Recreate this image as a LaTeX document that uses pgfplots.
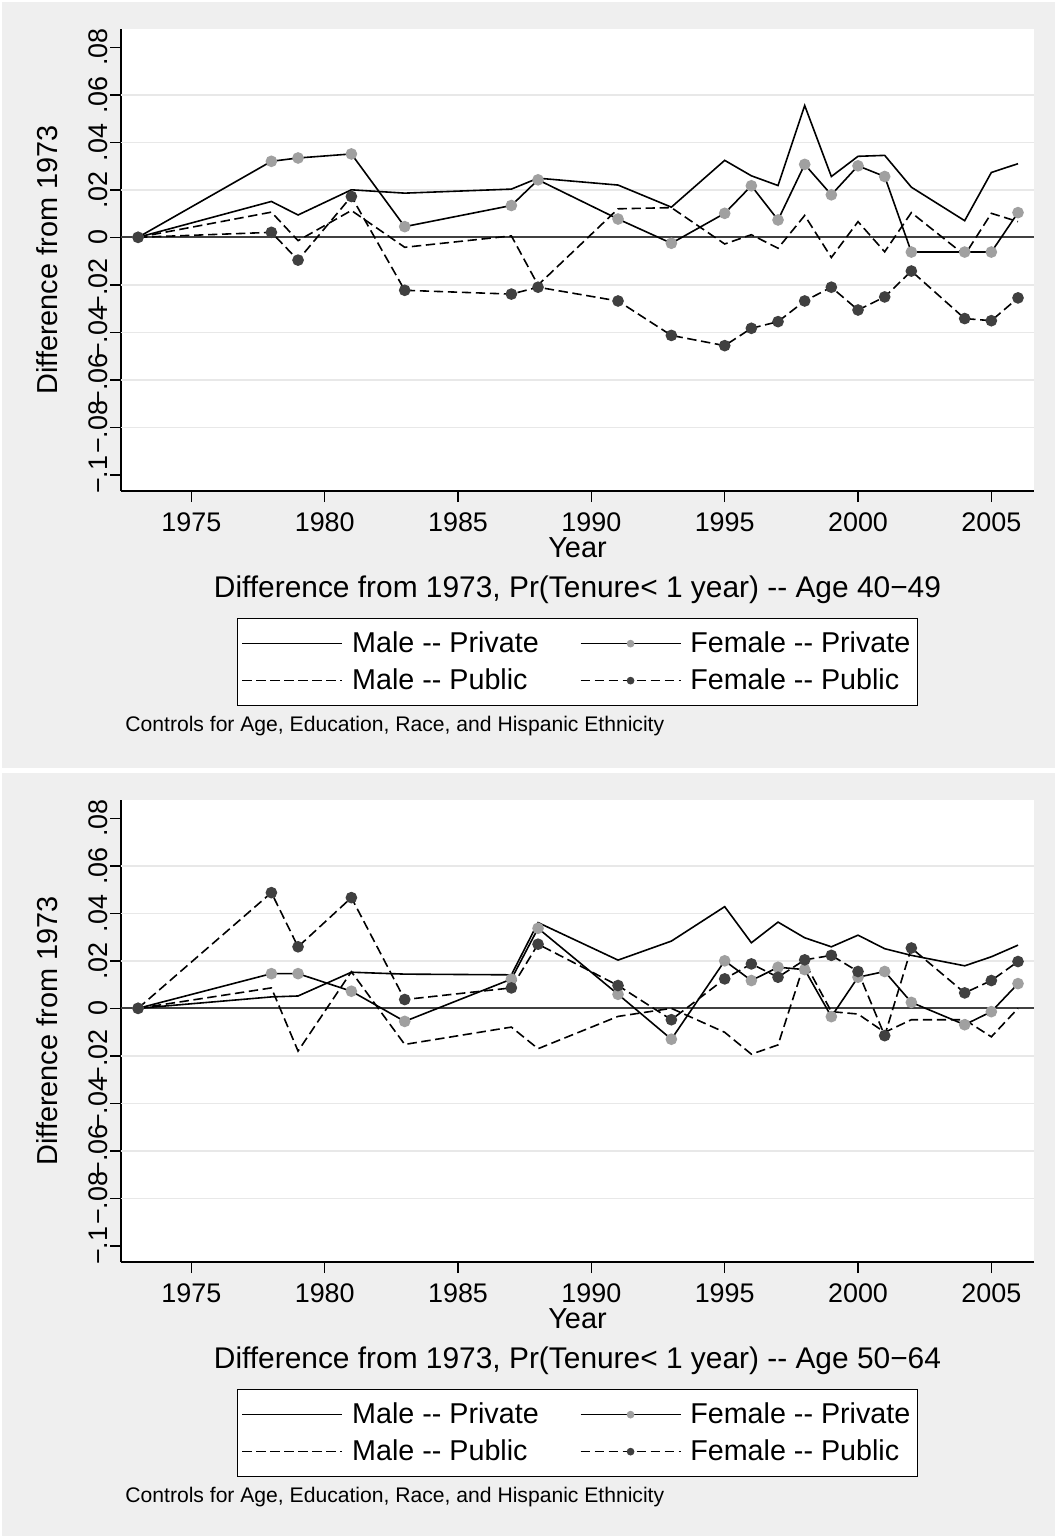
\documentclass[border=0pt]{standalone}
\usepackage{fontspec}
\setmainfont{Liberation Sans}
\usepackage{pgfplots}
\usepackage{pgfplotstable}
\pgfplotsset{compat=1.18}

\definecolor{bggray}{RGB}{239,239,239}
\definecolor{gridgray}{RGB}{232,232,232}
\definecolor{zerogray}{RGB}{64,64,64}
\definecolor{lightmk}{RGB}{160,160,160}
\definecolor{darkmk}{RGB}{64,64,64}

\pgfplotstableread{
year mpriv fpriv mpub fpub
1973 0 0 0 0
1978 0.0151 0.0320 0.0106 0.0021
1979 0.0094 0.0334 -0.0014 -0.0096
1981 0.0200 0.0351 0.0113 0.0172
1983 0.0186 0.0045 -0.0042 -0.0223
1987 0.0203 0.0134 0.0006 -0.0239
1988 0.0249 0.0242 -0.0201 -0.0210
1991 0.0220 0.0077 0.0120 -0.0268
1993 0.0127 -0.0025 0.0125 -0.0413
1995 0.0324 0.0101 -0.0028 -0.0456
1996 0.0259 0.0217 0.0011 -0.0383
1997 0.0218 0.0073 -0.0046 -0.0355
1998 0.0555 0.0307 0.0092 -0.0268
1999 0.0256 0.0179 -0.0085 -0.0210
2000 0.0341 0.0301 0.0066 -0.0306
2001 0.0345 0.0256 -0.0061 -0.0251
2002 0.0211 -0.0062 0.0104 -0.0142
2004 0.0070 -0.0062 -0.0075 -0.0342
2005 0.0273 -0.0062 0.0101 -0.0351
2006 0.0310 0.0104 0.0066 -0.0255
}\dataA

\pgfplotstableread{
year mpriv fpriv mpub fpub
1973 0 0 0 0
1978 0.0048 0.0146 0.0086 0.0487
1979 0.0052 0.0146 -0.0180 0.0259
1981 0.0152 0.0072 0.0154 0.0466
1983 0.0144 -0.0055 -0.0152 0.0037
1987 0.0141 0.0123 -0.0079 0.0086
1988 0.0361 0.0337 -0.0170 0.0270
1991 0.0203 0.0059 -0.0034 0.0096
1993 0.0283 -0.0130 0.0000 -0.0048
1995 0.0428 0.0200 -0.0101 0.0124
1996 0.0276 0.0117 -0.0193 0.0187
1997 0.0363 0.0173 -0.0154 0.0131
1998 0.0297 0.0163 0.0194 0.0204
1999 0.0259 -0.0035 -0.0014 0.0223
2000 0.0308 0.0131 -0.0024 0.0155
2001 0.0251 0.0155 -0.0101 -0.0115
2002 0.0223 0.0025 -0.0048 0.0254
2004 0.0179 -0.0069 -0.0048 0.0065
2005 0.0217 -0.0014 -0.0120 0.0117
2006 0.0266 0.0104 0.0000 0.0197
}\dataB

\pgfplotsset{
  panel/.style={
    anchor=north west,
    scale only axis,
    width=456.5bp, height=231bp,
    xmin=1972.36, xmax=2006.6,
    ymin=-0.1068, ymax=0.0877,
    axis background/.style={fill=white},
    axis x line=bottom, axis y line=left,
    axis line style={-, black, line width=0.7bp},
    tick align=outside, major tick length=5.5bp,
    tick style={black, line width=0.7bp},
    xtick={1975,1980,1985,1990,1995,2000,2005},
    xticklabels={1975,1980,1985,1990,1995,2000,2005},
    ytick={-0.1,-0.08,-0.06,-0.04,-0.02,0,0.02,0.04,0.06,0.08},
    yticklabels={−.1,−.08,−.06,−.04,−.02,0,.02,.04,.06,.08},
    tick label style={font=\fontsize{13.5}{15}\selectfont},
    yticklabel style={rotate=90, anchor=south, inner sep=1bp},
    xticklabel style={inner sep=5bp},
    xlabel={Year},
    xlabel style={at={(axis description cs:0.5,-0.1234)}, anchor=center, font=\fontsize{14.5}{16}\selectfont},
    ylabel={Difference from 1973},
    ylabel style={at={(axis description cs:-0.081,0.5)}, anchor=center, font=\fontsize{14.5}{16}\selectfont},
    title style={at={(axis description cs:0.5,-0.24)}, anchor=center, yshift=0pt, font=\fontsize{15}{17}\selectfont},
    legend columns=2,
    legend cell align=left,
    legend style={at={(0.5,-0.275)}, anchor=north, draw=black, line width=0.6bp, fill=white,
      font=\fontsize{14.4}{16}\selectfont, inner xsep=2bp, inner ysep=3.5bp, row sep=0.5bp,
      nodes={inner sep=1.5bp, text height=12bp, text depth=3bp},
      /tikz/every odd column/.append style={column sep=3bp},
      /tikz/every even column/.append style={column sep=19bp}},
    legend image code/.code={\draw[mark repeat=2,mark phase=2,#1] plot coordinates {(0bp,0bp) (25bp,0bp) (50bp,0bp)};},
    every legend image post/.style={mark size=1.5bp},
    legend entries={Male -{}- Private, Female -{}- Private, Male -{}- Public, Female -{}- Public},
  },
  mpriv/.style={black, line width=0.8bp, no markers},
  fpriv/.style={black, line width=0.8bp, mark=*, mark size=2.5bp, mark options={solid, fill=lightmk, draw=lightmk}},
  mpub/.style={black, line width=0.8bp, dash pattern=on 4.7bp off 2.3bp, no markers},
  fpub/.style={black, line width=0.8bp, dash pattern=on 4.7bp off 2.3bp, mark=*, mark size=2.5bp, mark options={solid, fill=darkmk, draw=darkmk}},
}

\newcommand{\gridlines}{%
  \draw[gridgray, line width=0.8bp] (axis cs:1972.36,-0.08) -- (axis cs:2006.6,-0.08);
  \draw[gridgray, line width=0.8bp] (axis cs:1972.36,-0.06) -- (axis cs:2006.6,-0.06);
  \draw[gridgray, line width=0.8bp] (axis cs:1972.36,-0.04) -- (axis cs:2006.6,-0.04);
  \draw[gridgray, line width=0.8bp] (axis cs:1972.36,-0.02) -- (axis cs:2006.6,-0.02);
  \draw[gridgray, line width=0.8bp] (axis cs:1972.36,0.02) -- (axis cs:2006.6,0.02);
  \draw[gridgray, line width=0.8bp] (axis cs:1972.36,0.04) -- (axis cs:2006.6,0.04);
  \draw[gridgray, line width=0.8bp] (axis cs:1972.36,0.06) -- (axis cs:2006.6,0.06);
  \draw[zerogray, line width=1bp] (axis cs:1972.36,0) -- (axis cs:2006.6,0);
}

\begin{document}
\begin{tikzpicture}
  \useasboundingbox (0,0) rectangle (528.5bp,-769bp);
  \fill[white] (0,0) rectangle (528.5bp,-769bp);
  \fill[bggray] (1bp,-1bp) rectangle (527.5bp,-384bp);
  \fill[bggray] (1bp,-386.5bp) rectangle (527.5bp,-768bp);

  \begin{axis}[panel, at={(60.5bp,-14.5bp)},
    title={Difference from 1973, Pr(Tenure< 1 year) -{}- Age 40−49}]
    \gridlines
    \addplot[mpriv] table[x=year, y=mpriv] {\dataA};
    \addplot[fpriv] table[x=year, y=fpriv] {\dataA};
    \addplot[mpub] table[x=year, y=mpub] {\dataA};
    \addplot[fpub] table[x=year, y=fpub] {\dataA};
  \end{axis}
  \node[anchor=west, font=\fontsize{10.6}{12}\selectfont, inner sep=0pt] at (62.5bp,-363bp)
    {Controls for Age, Education, Race, and Hispanic Ethnicity};

  \begin{axis}[panel, at={(60.5bp,-400bp)},
    title={Difference from 1973, Pr(Tenure< 1 year) -{}- Age 50−64}]
    \gridlines
    \addplot[mpriv] table[x=year, y=mpriv] {\dataB};
    \addplot[fpriv] table[x=year, y=fpriv] {\dataB};
    \addplot[mpub] table[x=year, y=mpub] {\dataB};
    \addplot[fpub] table[x=year, y=fpub] {\dataB};
  \end{axis}
  \node[anchor=west, font=\fontsize{10.6}{12}\selectfont, inner sep=0pt] at (62.5bp,-748.5bp)
    {Controls for Age, Education, Race, and Hispanic Ethnicity};
\end{tikzpicture}
\end{document}
